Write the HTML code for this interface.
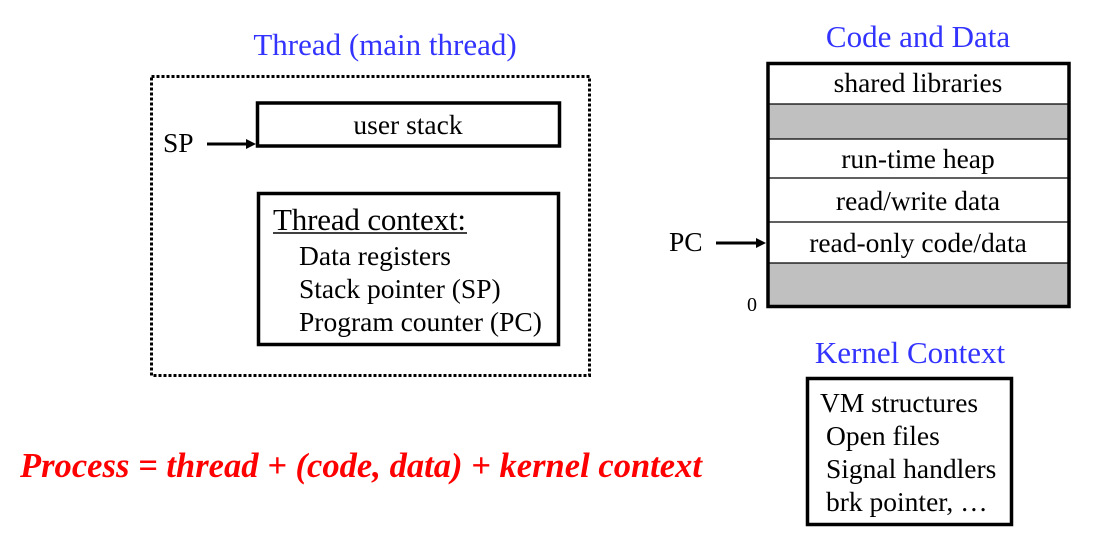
<!DOCTYPE html>
<html><head><meta charset="utf-8"><style>
body{margin:0;background:#fff}
svg text{font-family:"Liberation Serif",serif}
</style></head><body>
<svg width="1100" height="548" xmlns="http://www.w3.org/2000/svg">
<text x="385" y="55" font-size="31" fill="#3333ff" text-anchor="middle">Thread (main thread)</text>
<rect x="151.5" y="76.5" width="438" height="299" fill="none" stroke="#000" stroke-width="3" stroke-dasharray="3,2"/>
<rect x="257.5" y="103" width="302" height="43" fill="none" stroke="#000" stroke-width="3.5"/>
<text x="408" y="134" font-size="27.5" text-anchor="middle">user stack</text>
<text x="163" y="152" font-size="27.5">SP</text>
<line x1="207" y1="144" x2="248" y2="144" stroke="#000" stroke-width="3"/>
<polygon points="256,144 246,139 246,149" fill="#000"/>
<rect x="258.5" y="193.5" width="300" height="151" fill="none" stroke="#000" stroke-width="3.5"/>
<text x="273" y="230" font-size="31" textLength="193">Thread context:</text>
<line x1="273" y1="233" x2="467" y2="233" stroke="#000" stroke-width="1.5"/>
<text x="299" y="265" font-size="27.5">Data registers</text>
<text x="299" y="298" font-size="27.5">Stack pointer (SP)</text>
<text x="299" y="331" font-size="27.5">Program counter (PC)</text>

<text x="918" y="47" font-size="31" fill="#3333ff" text-anchor="middle">Code and Data</text>
<rect x="768" y="104" width="301" height="35" fill="#c0c0c0"/>
<rect x="768" y="263" width="301" height="43" fill="#c0c0c0"/>
<g stroke="#000" stroke-width="1.2">
<line x1="768" y1="104" x2="1069" y2="104"/>
<line x1="768" y1="139" x2="1069" y2="139"/>
<line x1="768" y1="178" x2="1069" y2="178"/>
<line x1="768" y1="222" x2="1069" y2="222"/>
<line x1="768" y1="263" x2="1069" y2="263"/>
</g>
<rect x="768" y="63.5" width="301" height="243" fill="none" stroke="#000" stroke-width="3.5"/>
<text x="918" y="92" font-size="27.5" text-anchor="middle">shared libraries</text>
<text x="918" y="168" font-size="27.5" text-anchor="middle">run-time heap</text>
<text x="918" y="210" font-size="27.5" text-anchor="middle">read/write data</text>
<text x="918" y="252" font-size="27.5" text-anchor="middle">read-only code/data</text>
<text x="669" y="251" font-size="27.5">PC</text>
<line x1="716" y1="243" x2="758" y2="243" stroke="#000" stroke-width="3"/>
<polygon points="766,243 756,238 756,248" fill="#000"/>
<text x="747" y="311" font-size="20">0</text>

<text x="910" y="363" font-size="31" fill="#3333ff" text-anchor="middle">Kernel Context</text>
<rect x="807.5" y="378.5" width="204" height="146" fill="none" stroke="#000" stroke-width="3.5"/>
<text x="820" y="412" font-size="27.5">VM structures</text>
<text x="826" y="445" font-size="27.5">Open files</text>
<text x="826" y="478" font-size="27.5">Signal handlers</text>
<text x="826" y="511" font-size="27.5">brk pointer, …</text>

<text x="20" y="477" font-size="34.5" fill="#ff0000" font-weight="bold" font-style="italic" textLength="682">Process = thread + (code, data) + kernel context</text>
</svg>
</body></html>
